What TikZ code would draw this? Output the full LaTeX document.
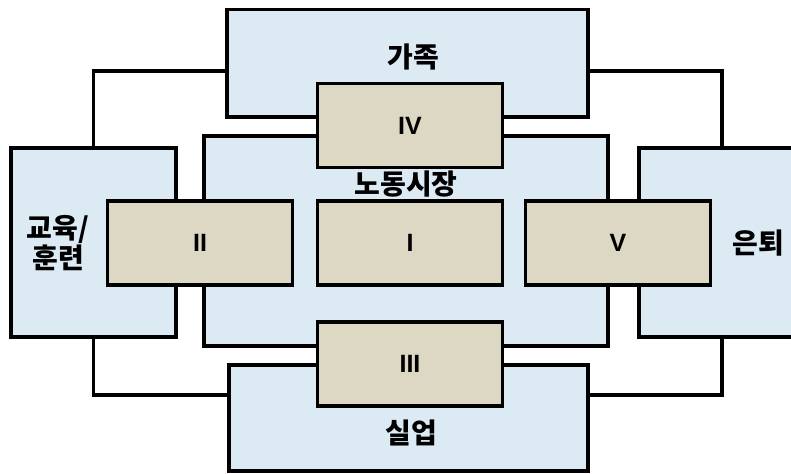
\documentclass[tikz,border=0pt]{standalone}
\usepackage{fontspec}
\newfontfamily\kr{Noto Sans CJK KR}
\newfontfamily\rom{Liberation Sans}
\definecolor{boxblue}{HTML}{DBEAF3}
\definecolor{boxtan}{HTML}{DDD8C4}
\begin{document}
\begin{tikzpicture}[x=1pt,y=-1pt,
  bluebox/.style={draw=black,line width=3.3pt,fill=boxblue,rectangle,inner sep=0pt},
  tanbox/.style={draw=black,line width=3.3pt,fill=boxtan,rectangle,inner sep=0pt,
    minimum width=185pt,minimum height=84pt,font=\rom\bfseries\fontsize{25}{25}\selectfont},
  lbl/.style={inner sep=0pt,font=\kr\bfseries\fontsize{28}{28}\selectfont,align=center},
  link/.style={draw=black,line width=3.3pt}]
\useasboundingbox (0,0) rectangle (791,473);
% light blue boxes
\node[bluebox,minimum width=361pt,minimum height=107.5pt] (fam) at (407.5,63.25) {};
\node[bluebox,minimum width=404pt,minimum height=210pt] (lab) at (406,241) {};
\node[bluebox,minimum width=165pt,minimum height=189pt] (edu) at (93.5,242.5) {};
\node[bluebox,minimum width=166pt,minimum height=189pt] (ret) at (722,242.5) {};
\node[bluebox,minimum width=359pt,minimum height=106pt] (une) at (408.5,418) {};
% connectors
\coordinate (famL) at (227,71);
\coordinate (famR) at (588,71);
\coordinate (uneL) at (229,395);
\coordinate (uneR) at (588,395);
\draw[link] (famL) -| (edu.north);
\draw[link] (famR) -| (ret.north);
\draw[link] (edu.south) |- (uneL);
\draw[link] (ret.south) |- (uneR);
% tan boxes
\node[tanbox] (iv) at (410,125.5) {IV};
\node[tanbox] (ii) at (200,243) {II};
\node[tanbox] (i) at (410,243) {I};
\node[tanbox] (v) at (618,243) {V};
\node[tanbox] (iii) at (410,364) {III};
% labels
\node[lbl] (tfam) at (413,57) {가족};
\node[lbl] (tlab) at (406,184) {노동시장};
\node[lbl] (tedu) at (58,243) {교육/\\훈련};
\node[lbl] (tret) at (758,243) {은퇴};
\node[lbl] (tune) at (411,433) {실업};
\end{tikzpicture}
\end{document}
